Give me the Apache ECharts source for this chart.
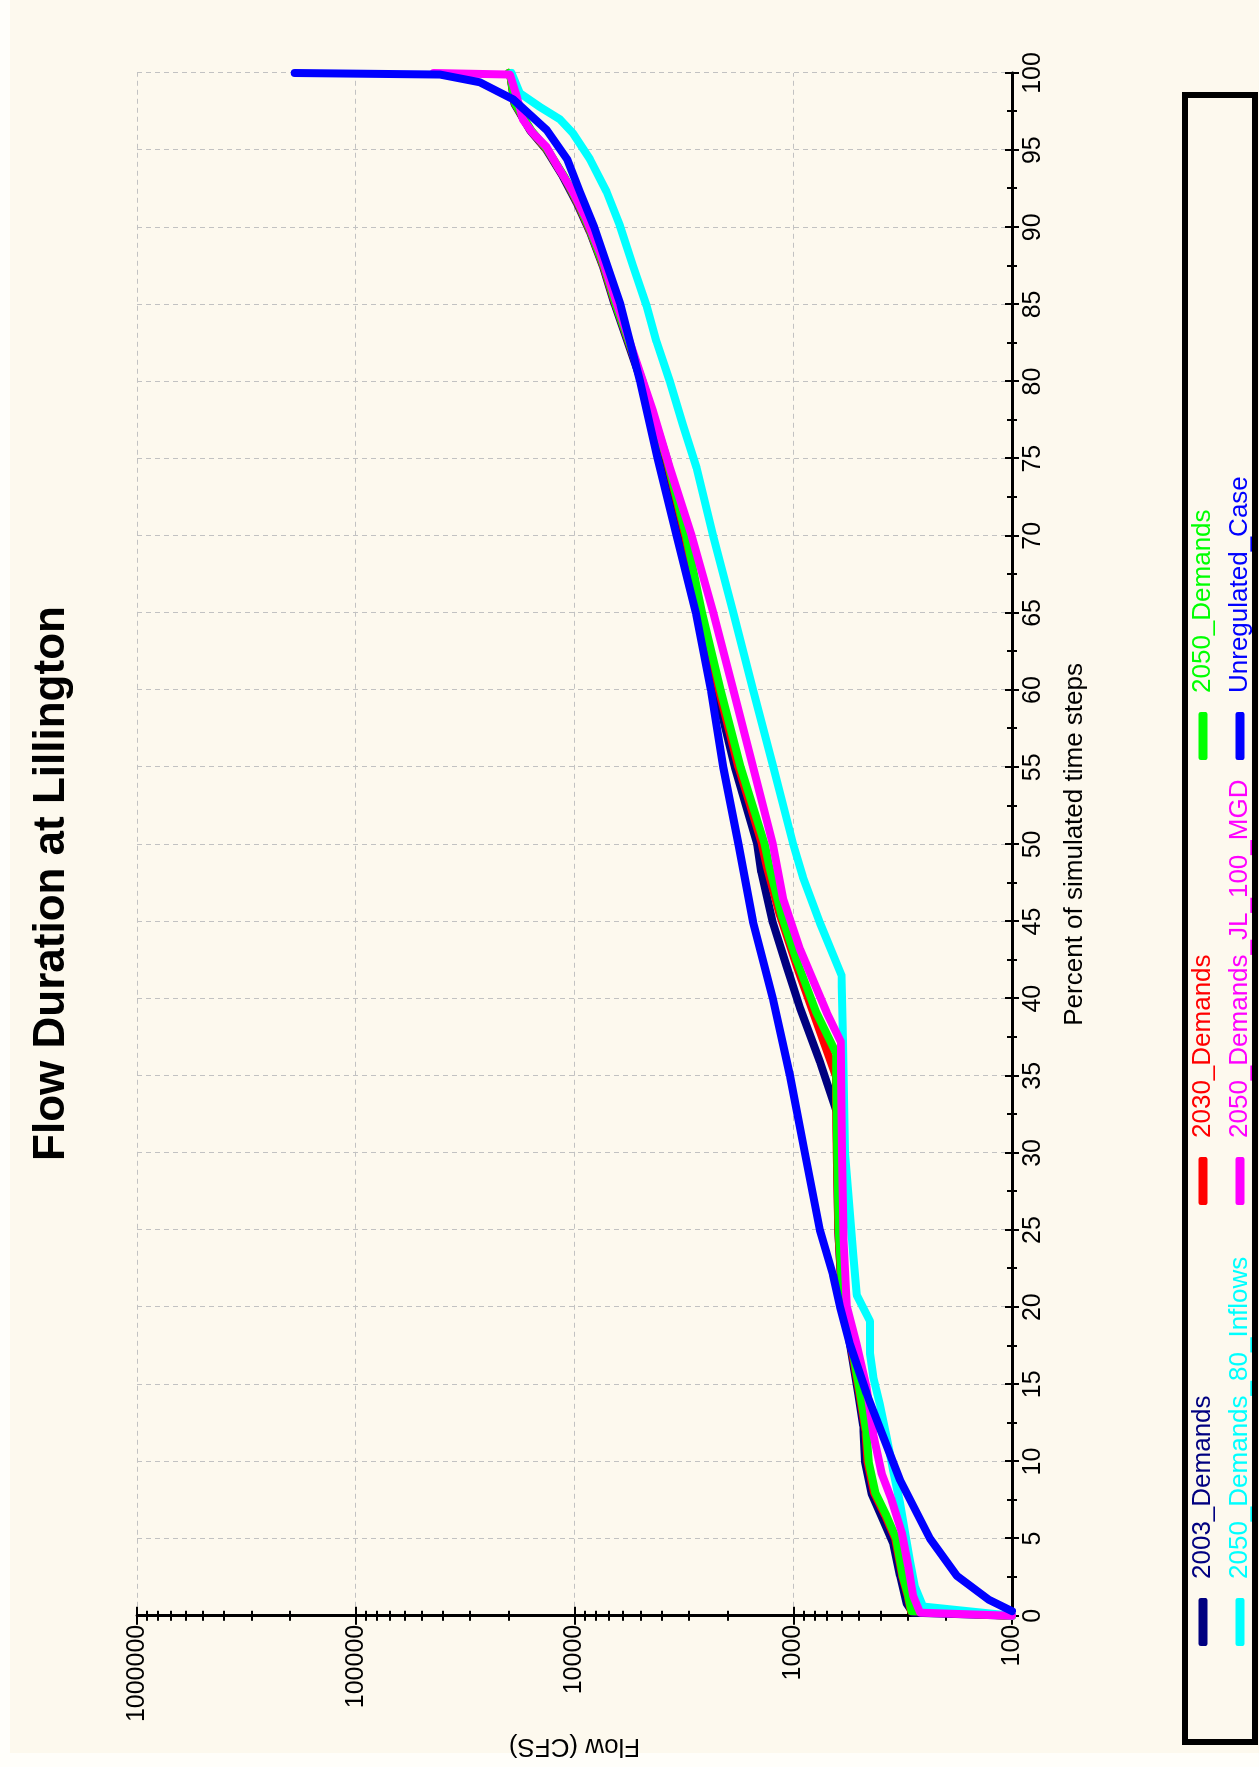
<!DOCTYPE html>
<html>
<head>
<meta charset="utf-8">
<script src="https://cdn.jsdelivr.net/npm/echarts@6/dist/echarts.min.js"></script>
<style>
  html, body { margin: 0; padding: 0; overflow: hidden; background: #fffefa; }
  #bg { position: absolute; left: 10px; top: 0; width: 1249px; height: 1753px; background: #fdf9ee; }
  #chart { position: absolute; left: 0; top: 0; width: 1767px; height: 1259px;
           transform-origin: 0 0; transform: translateY(1767px) rotate(-90deg); }
</style>
</head>
<body>
<div id="bg"></div>
<div id="chart"></div>
<script>
// ---------------- DATA ----------------
const titleText = 'Flow Duration at Lillington';
const xName = 'Percent of simulated time steps';
const yName = 'Flow (CFS)';
const seriesNames = ['2003_Demands', '2030_Demands', '2050_Demands',
  '2050_Demands_80_Inflows', '2050_Demands_JL_100_MGD', 'Unregulated_Case'];
const seriesColors = ['#000080', '#ff0000', '#00ff00', '#00ffff', '#ff00ff', '#0000ff'];

const pct2003  = [0, 0.2, 0.8, 2.6, 4.7, 6.2, 7.9, 10, 12.3, 14.4, 17.6, 20.8, 25, 32.7, 35.9, 39.4, 42.1, 44.9, 48.2, 50, 55, 60, 65, 70, 75, 80, 85, 87.5, 89.7, 91.6, 93.3, 95, 96.3, 98, 99.9, 100];
const flow2003 = [100, 284, 303, 325, 349, 388, 438, 470, 479, 505, 551, 601, 622, 634, 755, 931, 1072, 1238, 1400, 1460, 1850, 2250, 2700, 3150, 3850, 4950, 6550, 7420, 8500, 9780, 11300, 13400, 16000, 18800, 19700, 20000];

const pct2030  = [0, 0.3, 1.3, 2.6, 5, 6.5, 8, 10, 12, 14.4, 17.6, 20.8, 25, 30, 35, 38.5, 42.1, 45.4, 48.6, 50, 55, 60, 65, 70, 75, 80, 85, 87.5, 89.7, 91.6, 93.3, 95, 96.3, 98, 99.9, 100];
const flow2030 = [100, 290, 300, 318, 342, 380, 428, 458, 468, 498, 546, 598, 622, 632, 640, 782, 964, 1150, 1323, 1390, 1780, 2190, 2650, 3120, 3800, 4900, 6500, 7380, 8450, 9700, 11200, 13300, 15900, 18700, 19700, 20000];

const pct2050  = [0, 0.3, 1.3, 2.6, 5, 6.5, 8, 10, 12, 14.4, 17.6, 20.8, 25, 30, 36.5, 39.2, 42.4, 45.4, 48.6, 50, 55, 60, 65, 70, 75, 80, 85, 87.5, 89.7, 91.6, 93.3, 95, 96.3, 98, 99.9, 100];
const flow2050 = [100, 288, 298, 316, 338, 375, 422, 452, 464, 494, 542, 596, 620, 630, 638, 790, 960, 1130, 1290, 1350, 1740, 2150, 2610, 3090, 3780, 4880, 6480, 7350, 8420, 9650, 11150, 13250, 15800, 18650, 19700, 20000];

const pctInflow80  = [0, 0.6, 1.9, 3.6, 5.4, 7.3, 9.4, 11.6, 13.7, 15.5, 17, 19.1, 20.8, 23.4, 30, 37.2, 41.5, 44.9, 47.9, 50, 55, 60, 65, 70, 74.4, 77.2, 80, 82.6, 84.9, 87.5, 90.1, 92.3, 94.4, 96.1, 97, 97.8, 98.7, 100];
const flowInflow80 = [100, 255, 278, 293, 308, 325, 349, 374, 402, 431, 446, 446, 513, 532, 580, 592, 601, 755, 904, 1000, 1234, 1524, 1880, 2322, 2765, 3195, 3665, 4220, 4680, 5400, 6200, 7130, 8490, 10170, 11670, 14400, 17780, 19400];

const pctJL100  = [0, 0.2, 1.3, 3.2, 5.4, 7.5, 9.2, 11.8, 14.8, 17.6, 20.1, 24.7, 30, 37.2, 39.1, 43.2, 46.5, 50, 55, 60, 65, 70, 74.4, 78.1, 80.6, 83.2, 85.8, 88.4, 90.5, 92.3, 93.7, 95.2, 96.1, 97, 98.5, 99.9, 100];
const flowJL100 = [100, 263, 283, 298, 319, 355, 394, 431, 462, 513, 570, 590, 598, 606, 703, 931, 1114, 1240, 1524, 1880, 2320, 2912, 3665, 4380, 5020, 5780, 6670, 7660, 8810, 10170, 11670, 13420, 15500, 17220, 18390, 19720, 44000];

const pctUnreg  = [0.3, 1.05, 2.6, 5, 8.8, 11.6, 14.4, 17.6, 20, 22.1, 25, 30, 35, 40, 45, 50, 55, 60, 65, 70, 75, 80, 85, 90, 92.3, 94.4, 96.3, 98.3, 99.4, 99.9, 100];
const flowUnreg = [100, 128, 179, 237, 325, 388, 462, 551, 611, 658, 755, 885, 1035, 1238, 1528, 1780, 2089, 2380, 2786, 3412, 4169, 5012, 6166, 8128, 9450, 10800, 13400, 19100, 27100, 41200, 190000];

const pctTicks = { min: 0, max: 100, interval: 5 };
const flowMin = 100, flowMax = 1000000;
const flowMajorTicks = [100, 1000, 10000, 100000, 1000000];
const flowMinorTicks = [200, 300, 400, 500, 600, 700, 800, 900,
  2000, 3000, 4000, 5000, 6000, 7000, 8000, 9000,
  20000, 30000, 40000, 50000, 60000, 70000, 80000, 90000,
  200000, 300000, 400000, 500000, 600000, 700000, 800000, 900000];

// ---------------- CHART ----------------
const FONT = '"Liberation Sans", Arial, sans-serif';
const pctList = [pct2003, pct2030, pct2050, pctInflow80, pctJL100, pctUnreg];
const flowList = [flow2003, flow2030, flow2050, flowInflow80, flowJL100, flowUnreg];
const zip = (a, b) => a.map((v, i) => [v, b[i]]);

const black = '#000';
const gridLine = { show: true, lineStyle: { color: '#c2c2c2', width: 1, type: [5, 4] } };

function pctAxis(inside, main) {
  return {
    type: 'value', position: 'bottom', min: pctTicks.min, max: pctTicks.max, interval: pctTicks.interval,
    name: main ? xName : '', nameLocation: 'middle', nameGap: 50,
    nameTextStyle: { fontSize: 26, color: black, fontFamily: FONT },
    axisLine: { show: main, onZero: false, lineStyle: { color: black, width: 3 } },
    axisTick: { show: true, inside: inside, length: 7, lineStyle: { color: black, width: 2 } },
    minorTick: { show: true, splitNumber: 2, length: 5, lineStyle: { color: black, width: 2 } },
    axisLabel: { show: main, fontSize: 25, color: black, margin: 9, fontFamily: FONT },
    splitLine: main ? gridLine : { show: false },
    minorSplitLine: { show: false }
  };
}
function tickAxis(values, inside, len) {
  return {
    type: 'value', position: 'left', min: Math.log10(flowMin), max: Math.log10(flowMax),
    axisLine: { show: false, onZero: false },
    axisLabel: { show: false },
    splitLine: { show: false },
    axisTick: { show: true, inside: inside, length: len, customValues: values.map(Math.log10),
                lineStyle: { color: black, width: 2 } }
  };
}

const chart = echarts.init(document.getElementById('chart'), null, { renderer: 'canvas' });

const legends = seriesNames.map((n, i) => ({
  data: [{ name: n, icon: 'roundRect' }],
  left: [121, 562, 1007][i % 3],
  top: i < 3 ? 1190 : 1227,
  padding: 0,
  itemWidth: 48, itemHeight: 9,
  selectedMode: false,
  textStyle: { color: seriesColors[i], fontSize: 26, fontFamily: FONT, padding: [0, 0, 0, 14] }
}));

chart.setOption({
  backgroundColor: 'transparent',
  animation: false,
  title: {
    text: titleText, left: 'center', top: 25,
    textStyle: { fontSize: 44, fontWeight: 'bold', color: black, fontFamily: FONT }
  },
  legend: legends,
  grid: { left: 144, right: 73, top: 137, bottom: 247, containLabel: false },
  xAxis: [pctAxis(false, true), pctAxis(true, false)],
  yAxis: [
    {
      type: 'log', logBase: 10, min: flowMin, max: flowMax, position: 'left',
      name: yName, nameLocation: 'middle', nameGap: 116,
      nameTextStyle: { fontSize: 26, color: black, fontFamily: FONT },
      axisLine: { show: true, onZero: false, lineStyle: { color: black, width: 3 } },
      axisTick: { show: true, length: 9, lineStyle: { color: black, width: 2 } },
      axisLabel: { show: true, fontSize: 25, color: black, margin: 9, fontFamily: FONT,
                   formatter: v => String(Math.round(v)) },
      splitLine: gridLine,
      minorTick: { show: false }
    },
    tickAxis(flowMajorTicks, true, 9),
    tickAxis(flowMinorTicks, false, 5),
    tickAxis(flowMinorTicks, true, 5)
  ],
  graphic: [{
    type: 'rect', silent: true,
    shape: { x: 25, y: 1185, width: 1647, height: 70 },
    style: { fill: null, stroke: black, lineWidth: 6 }
  }],
  series: seriesNames.map((n, i) => ({
    name: n, type: 'line', xAxisIndex: 0, yAxisIndex: 0,
    data: zip(pctList[i], flowList[i]),
    showSymbol: false, symbol: 'none', smooth: false,
    color: seriesColors[i],
    lineStyle: { color: seriesColors[i], width: 8, cap: 'round', join: 'round' },
    z: 2 + i
  }))
});
</script>
</body>
</html>
